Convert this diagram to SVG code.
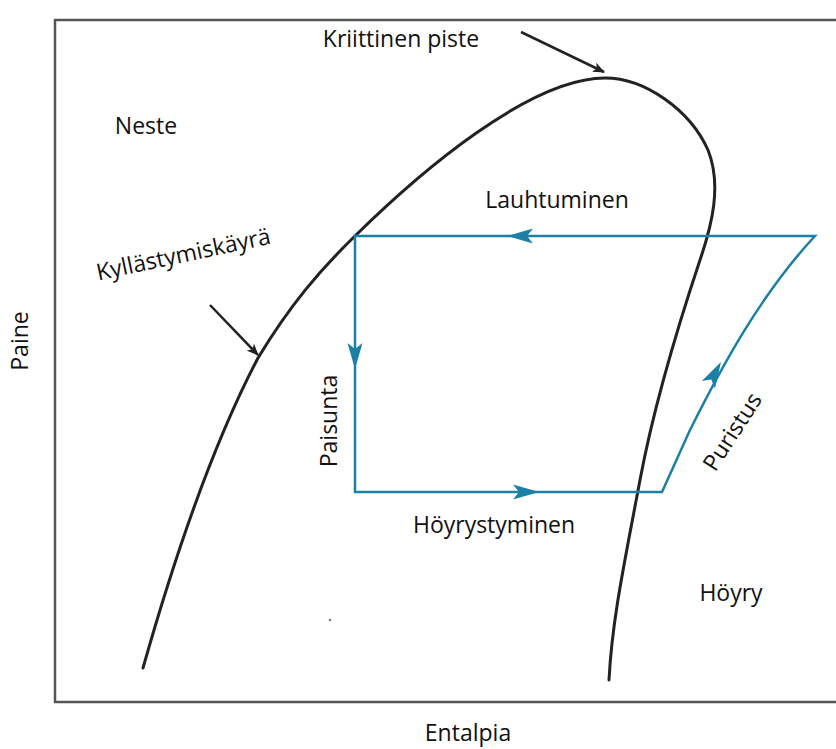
<svg xmlns="http://www.w3.org/2000/svg" width="836" height="749" viewBox="0 0 836 749">
<style>
.t{font-family:"Open Sans","Liberation Sans",sans-serif;font-size:23px;fill:#111}
.frame{fill:none;stroke:#555;stroke-width:2.5}
.dome{fill:none;stroke:#222;stroke-width:3;stroke-linecap:round}
.cyc{fill:none;stroke:#1b7fa6;stroke-width:2.5;stroke-linejoin:miter}
.ah{fill:#1b7fa6}
.blk{stroke:#222;stroke-width:2.5;fill:none}
</style>
<defs>
<marker id="bk" viewBox="0 0 12 10" refX="11" refY="5" markerWidth="12" markerHeight="10" markerUnits="userSpaceOnUse" orient="auto">
<path d="M0,0 L12,5 L0,10 L3,5 Z" fill="#222"/>
</marker>
<path id="bah" d="M0,0 L-26,-7.5 L-20,0 L-26,7.5 Z"/>
</defs>
<rect width="836" height="749" fill="#fff"/>
<path class="frame" d="M840,20 H55 V702 H840"/>
<g id="dome">
<path class="dome" d="M143,668 C175,555 215,440 258,358 C290,305 320,270 355,236 C420,172 530,78 605,78 C645,78 690,110 708,150 C722,185 712,225 700,260 C680,320 655,400 640,480 C625,560 612,620 609,680"/>
</g>
<g id="connectors">
<path class="cyc" d="M355,236 H815 C760,295 720,370 690,430 L662,492 H355 Z"/>
<use href="#bah" class="ah" transform="translate(507,236) rotate(180)"/>
<use href="#bah" class="ah" transform="translate(355,369) rotate(90)"/>
<use href="#bah" class="ah" transform="translate(539,492)"/>
<use href="#bah" class="ah" transform="translate(721,362) rotate(-61)"/>
<line class="blk" x1="521" y1="32" x2="604" y2="72" marker-end="url(#bk)"/>
<line class="blk" x1="210" y1="305" x2="258" y2="355" marker-end="url(#bk)"/>
</g>
<circle cx="330" cy="620" r="1.2" fill="#777"/>
<g id="label-kriittinen"><text class="t" x="401" y="47" text-anchor="middle">Kriittinen piste</text></g>
<g id="label-neste"><text class="t" x="146" y="134" text-anchor="middle">Neste</text></g>
<g id="label-lauhtuminen"><text class="t" x="557" y="208" text-anchor="middle">Lauhtuminen</text></g>
<g id="label-kyllastymiskayra"><text class="t" text-anchor="middle" transform="translate(185,262) rotate(-12)">Kyllästymiskäyrä</text></g>
<g id="label-paine"><text class="t" text-anchor="middle" transform="translate(28,341) rotate(-90)">Paine</text></g>
<g id="label-paisunta"><text class="t" text-anchor="middle" transform="translate(337,421) rotate(-90)">Paisunta</text></g>
<g id="label-puristus"><text class="t" text-anchor="middle" transform="translate(739,436) rotate(-57)">Puristus</text></g>
<g id="label-hoyrystyminen"><text class="t" x="494" y="533" text-anchor="middle">Höyrystyminen</text></g>
<g id="label-hoyry"><text class="t" x="731" y="601" text-anchor="middle">Höyry</text></g>
<g id="label-entalpia"><text class="t" x="468" y="741" text-anchor="middle">Entalpia</text></g>
</svg>
